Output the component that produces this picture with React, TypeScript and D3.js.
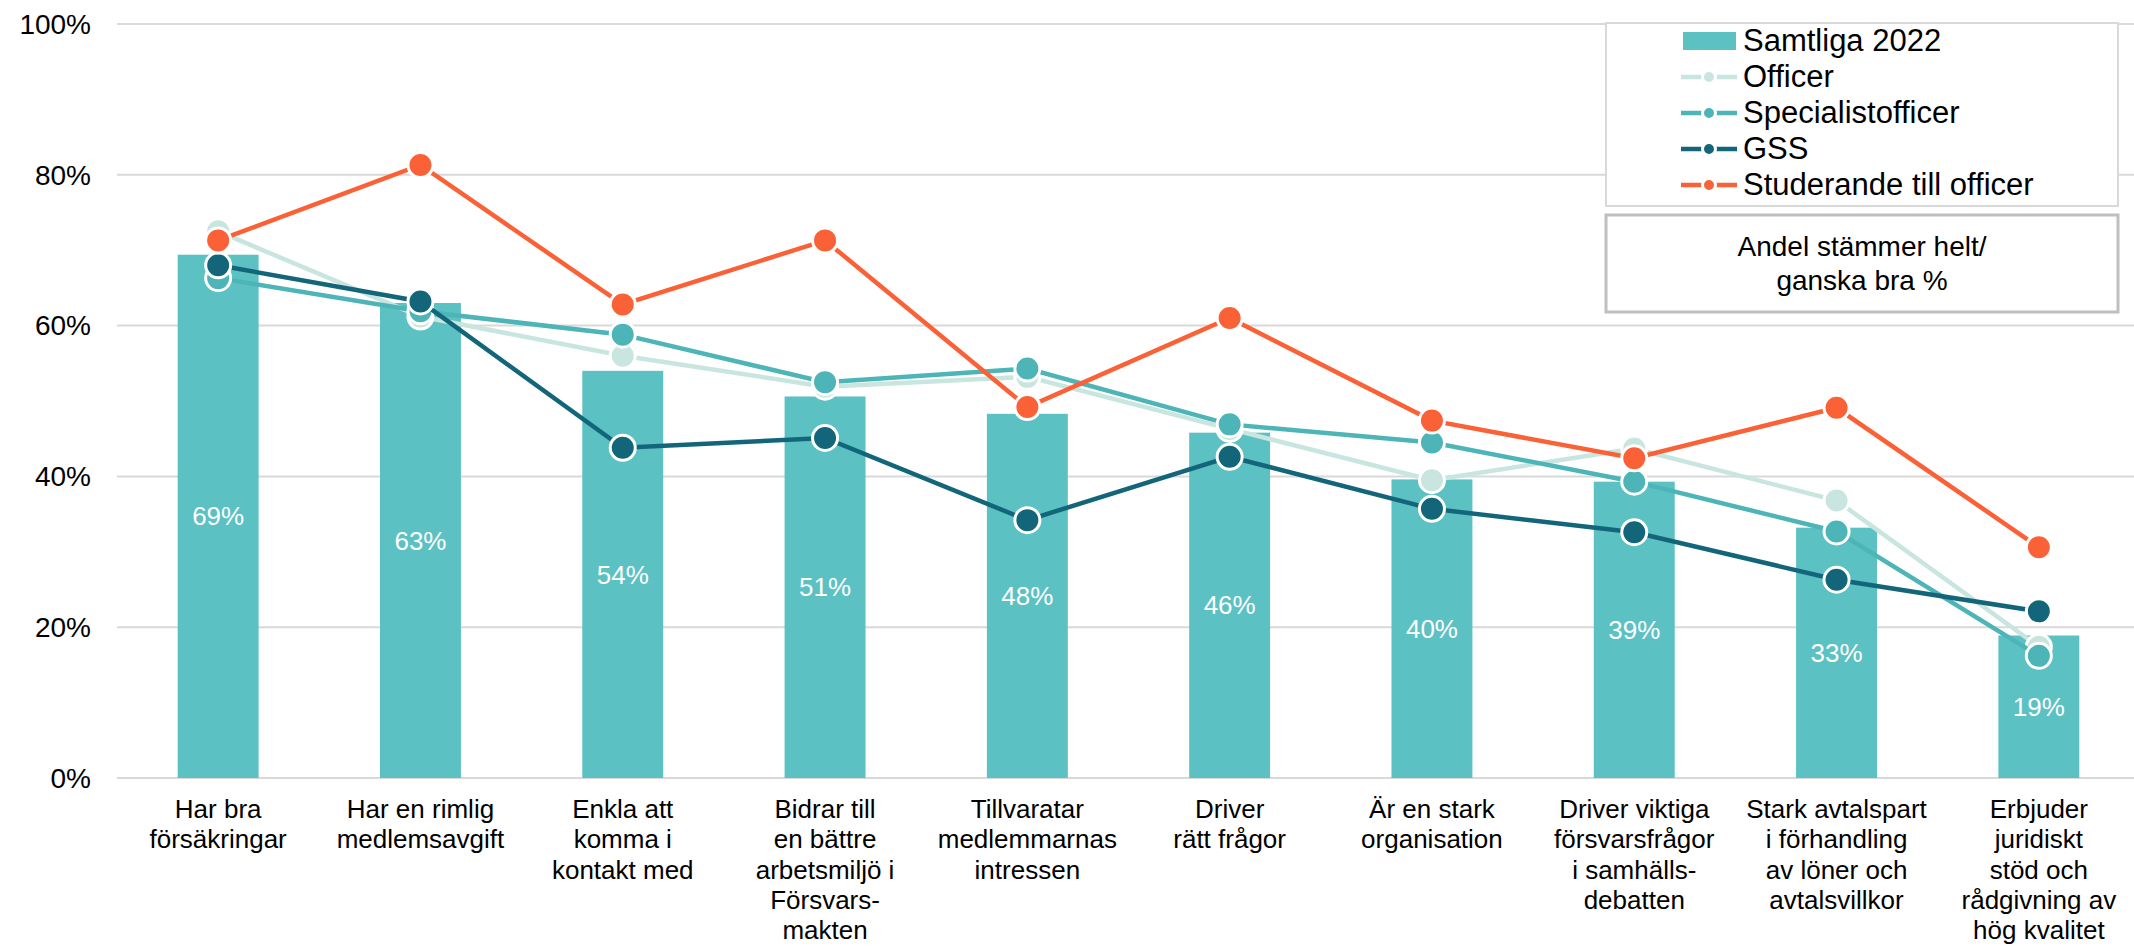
import React from "react";
import * as d3 from "d3";

const categories: string[] = [
  "Har bra\nförsäkringar",
  "Har en rimlig\nmedlemsavgift",
  "Enkla att\nkomma i\nkontakt med",
  "Bidrar till\nen bättre\narbetsmiljö i\nFörsvars-\nmakten",
  "Tillvaratar\nmedlemmarnas\nintressen",
  "Driver\nrätt frågor",
  "Är en stark\norganisation",
  "Driver viktiga\nförsvarsfrågor\ni samhälls-\ndebatten",
  "Stark avtalspart\ni förhandling\nav löner och\navtalsvillkor",
  "Erbjuder\njuridiskt\nstöd och\nrådgivning av\nhög kvalitet",
];

const samtliga2022: number[] = [69.4, 63.0, 54.0, 50.6, 48.3, 45.8, 39.6, 39.3, 33.2, 18.9];
const officer: number[] = [72.5, 61.2, 56.0, 51.9, 53.2, 46.3, 39.5, 43.7, 36.8, 17.4];
const specialistofficer: number[] = [66.3, 61.9, 58.8, 52.5, 54.3, 46.9, 44.5, 39.3, 32.7, 16.2];
const gss: number[] = [68.0, 63.2, 43.8, 45.1, 34.2, 42.6, 35.7, 32.6, 26.3, 22.1];
const studerande: number[] = [71.3, 81.3, 62.8, 71.3, 49.2, 61.0, 47.4, 42.4, 49.1, 30.6];

const yTicks: number[] = [0, 20, 40, 60, 80, 100];

const barName = "Samtliga 2022";
const lineSeries = [
  { name: "Officer", values: officer, color: "#C8E5DF" },
  { name: "Specialistofficer", values: specialistofficer, color: "#4DB4B8" },
  { name: "GSS", values: gss, color: "#13667A" },
  { name: "Studerande till officer", values: studerande, color: "#FA6137" },
];
const noteLines: string[] = ["Andel stämmer helt/", "ganska bra %"];

const W = 2134;
const H = 947;
const FONT = "'Liberation Sans', Arial, sans-serif";
const BAR_COLOR = "#5BC1C3";

export default function App() {
  const x = d3.scaleBand<string>().domain(categories).range([117, 2140]).padding(0);
  const y = d3.scaleLinear().domain([0, 100]).range([778, 24]);
  const bw = x.bandwidth() * 0.4;
  const cx = (c: string) => (x(c) as number) + x.bandwidth() / 2;

  const line = d3
    .line<number>()
    .x((_, i) => cx(categories[i]))
    .y((d) => y(d));

  return (
    <svg
      width={W}
      height={H}
      style={{ position: "absolute", left: 0, top: 0, background: "#fff" }}
      fontFamily={FONT}
    >
      {/* gridlines */}
      {yTicks.map((t) => (
        <line key={t} x1={117} x2={W} y1={y(t)} y2={y(t)} stroke="#D9D9D9" strokeWidth={2} />
      ))}
      {/* y tick labels */}
      {yTicks.map((t) => (
        <text key={"t" + t} x={91} y={y(t)} dy="0.35em" textAnchor="end" fontSize={28} fill="#000">
          {t + "%"}
        </text>
      ))}
      {/* bars */}
      {categories.map((c, i) => (
        <rect
          key={"b" + i}
          x={cx(c) - bw / 2}
          y={y(samtliga2022[i])}
          width={bw}
          height={y(0) - y(samtliga2022[i])}
          fill={BAR_COLOR}
        />
      ))}
      {/* bar labels */}
      {categories.map((c, i) => (
        <text
          key={"bl" + i}
          x={cx(c)}
          y={(y(samtliga2022[i]) + y(0)) / 2}
          dy="0.35em"
          textAnchor="middle"
          fontSize={26}
          fill="#fff"
        >
          {Math.round(samtliga2022[i]) + "%"}
        </text>
      ))}
      {/* lines and markers */}
      {lineSeries.map((s) => (
        <g key={s.name}>
          <path d={line(s.values) || ""} fill="none" stroke={s.color} strokeWidth={4.5} />
          {s.values.map((v, i) => (
            <circle
              key={i}
              cx={cx(categories[i])}
              cy={y(v)}
              r={12.5}
              fill={s.color}
              stroke="#fff"
              strokeWidth={3}
            />
          ))}
        </g>
      ))}
      {/* category labels */}
      {categories.map((c, i) => (
        <text key={"c" + i} x={cx(c)} y={818} textAnchor="middle" fontSize={26} fill="#000">
          {c.split("\n").map((ln, j) => (
            <tspan key={j} x={cx(c)} y={818 + j * 30.3}>
              {ln}
            </tspan>
          ))}
        </text>
      ))}
      {/* legend box */}
      <rect x={1606} y={23} width={512} height={183} fill="#fff" stroke="#D9D9D9" strokeWidth={2} />
      <rect x={1683} y={32} width={53} height={18} fill={BAR_COLOR} />
      <text x={1743} y={51} fontSize={31} fill="#000">
        {barName}
      </text>
      {lineSeries.map((s, k) => {
        const by = 87 + k * 36;
        return (
          <g key={"lg" + k}>
            <line x1={1681} x2={1737} y1={by - 10} y2={by - 10} stroke={s.color} strokeWidth={4.5} />
            <circle cx={1709} cy={by - 10} r={6.5} fill={s.color} stroke="#fff" strokeWidth={3} />
            <text x={1743} y={by} fontSize={31} fill="#000">
              {s.name}
            </text>
          </g>
        );
      })}
      {/* note box */}
      <rect x={1606} y={215} width={512} height={97} fill="#fff" stroke="#BFBFBF" strokeWidth={3} />
      {noteLines.map((ln, j) => (
        <text key={"n" + j} x={1862} y={256 + j * 34} textAnchor="middle" fontSize={28} fill="#000">
          {ln}
        </text>
      ))}
    </svg>
  );
}
